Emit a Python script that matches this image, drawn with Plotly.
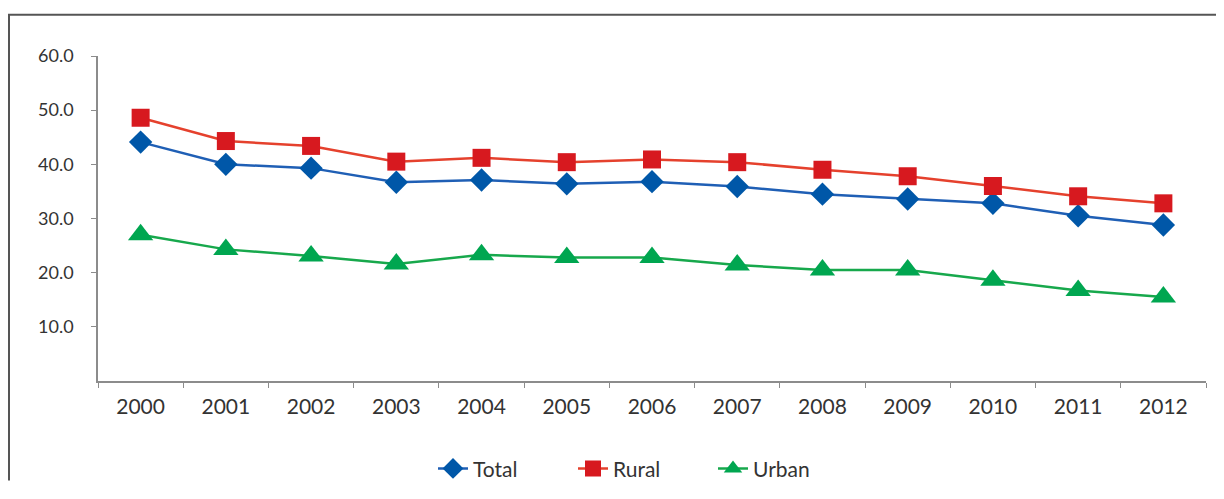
import plotly.graph_objects as go

years = ["2000", "2001", "2002", "2003", "2004", "2005", "2006",
         "2007", "2008", "2009", "2010", "2011", "2012"]
total = [44.1, 40.0, 39.3, 36.7, 37.1, 36.4, 36.8, 35.9, 34.5, 33.6, 32.8, 30.5, 28.8]
rural = [48.6, 44.3, 43.4, 40.5, 41.2, 40.4, 40.9, 40.4, 39.0, 37.8, 36.0, 34.1, 32.8]
urban = [27.0, 24.3, 23.1, 21.6, 23.3, 22.8, 22.8, 21.4, 20.5, 20.5, 18.6, 16.7, 15.5]
y_ticks = [10, 20, 30, 40, 50, 60]

# page has an 8px body margin; the photo appears slightly compressed vertically,
# so target vertical positions are divided by SY.
OFF = 8
SY = 0.978
W, H = 1224 - 2 * OFF, 491

def fy(y):  # target screen y -> figure px
    return y / SY - OFF

L = 98 - OFF
R = W - (1206 - OFF)
T = fy(55)
B = H - fy(386.5)
pw, ph = W - L - R, H - T - B

def px(x):
    return (x - OFF - L) / pw

def py(y):
    return (H - B - fy(y)) / ph

fig = go.Figure()
fig.add_trace(go.Scatter(
    x=years, y=total, name="Total", mode="lines+markers",
    line=dict(color="#1f5fb5", width=2.5),
    marker=dict(symbol="diamond", size=18, color="#0057a8"),
))
fig.add_trace(go.Scatter(
    x=years, y=rural, name="Rural", mode="lines+markers",
    line=dict(color="#e5412d", width=2.5),
    marker=dict(symbol="square", size=18, color="#d7191f"),
))
fig.add_trace(go.Scatter(
    x=years, y=urban, name="Urban", mode="lines+markers",
    line=dict(color="#17a84c", width=2.5),
    marker=dict(symbol="triangle-up", size=22, color="#00a650"),
))

fig.update_layout(
    width=W, height=H,
    margin=dict(l=L, r=R, t=T, b=B),
    paper_bgcolor="white", plot_bgcolor="white",
    font=dict(family="Lato", size=18, color="#333333"),
    showlegend=True,
    legend=dict(orientation="h", x=px(643), xanchor="center", y=py(476), yanchor="middle",
                font=dict(size=21, color="#333333"), entrywidth=95, tracegroupgap=0),
    xaxis=dict(
        type="category", range=[-0.5, 12.5], autorange=False,
        showgrid=False, showline=True, linecolor="#8c8c8c", linewidth=1.5,
        ticks="outside", ticklen=5, tickcolor="#8c8c8c", tickson="boundaries",
        tickfont=dict(size=21), ticklabelstandoff=6, zeroline=False,
    ),
    yaxis=dict(
        range=[0, 60], autorange=False, tickvals=y_ticks, tickformat=".1f", showgrid=False,
        showline=True, linecolor="#8c8c8c", linewidth=1.5,
        ticks="outside", ticklen=5, tickcolor="#8c8c8c", ticklabelstandoff=14,
        tickfont=dict(size=18), zeroline=False,
    ),
    shapes=[
        dict(type="line", xref="paper", yref="paper", x0=px(8), x1=px(1216), y0=py(13), y1=py(13),
             line=dict(color="#555555", width=2)),
        dict(type="line", xref="paper", yref="paper", x0=px(9), x1=px(9), y0=py(13), y1=-B / ph,
             line=dict(color="#555555", width=2)),
    ],
)

fig.write_html("out.html")
